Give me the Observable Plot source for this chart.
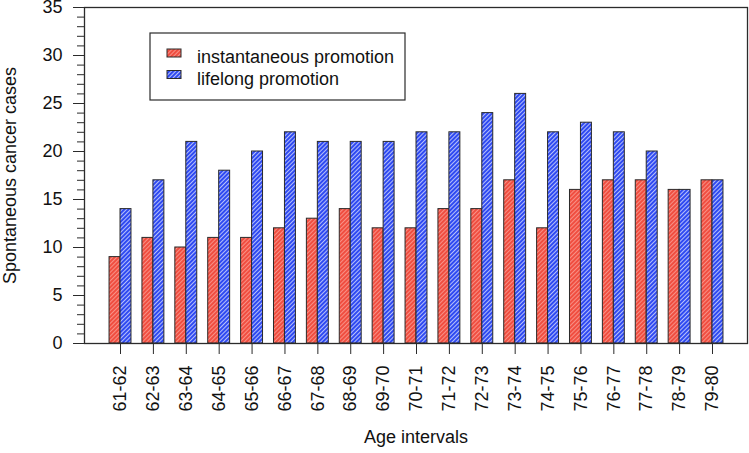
<!DOCTYPE html>
<html>
<head>
<meta charset="utf-8">
<script src="https://cdn.jsdelivr.net/npm/d3@7"></script>
<script src="https://cdn.jsdelivr.net/npm/@observablehq/plot@0.6"></script>
<style>
  html, body { margin: 0; padding: 0; background: #fff; }
  #chart svg { display: block; }
</style>
</head>
<body>
<div id="chart"></div>
<script>
const intervals = ["61-62","62-63","63-64","64-65","65-66","66-67","67-68","68-69","69-70","70-71",
                   "71-72","72-73","73-74","74-75","75-76","76-77","77-78","78-79","79-80"];
const instantaneous = [9,11,10,11,11,12,13,14,12,12,14,14,17,12,16,17,17,16,17];
const lifelong      = [14,17,21,18,20,22,21,21,21,22,22,24,26,22,23,22,20,16,17];
const seriesNames = ["instantaneous promotion", "lifelong promotion"];
const yMajorTicks = [0,5,10,15,20,25,30,35];
const yMinorTicks = d3.range(0, 36);

const rows = intervals.map((k, i) => ({i, label: k, instant: instantaneous[i], lifelong: lifelong[i]}));
const barW = 1 / 3;
const ink = "#2b2b2b";
const FS = 18;

const chart = Plot.plot({
  width: 749,
  height: 453,
  marginLeft: 84,
  marginRight: 2,
  marginTop: 7,
  marginBottom: 110,
  style: {fontFamily: "'Liberation Sans', Arial, sans-serif", fontSize: "18px", color: ink, background: "#fff"},
  x: {type: "linear", domain: [-1.095, 19.064]},
  y: {domain: [0, 35]},
  marks: [
    Plot.rect(rows, {x1: d => d.i - barW, x2: d => d.i, y1: 0, y2: "instant",
      fill: "url(#hatchRed)", stroke: ink, strokeWidth: 1}),
    Plot.rect(rows, {x1: d => d.i, x2: d => d.i + barW, y1: 0, y2: "lifelong",
      fill: "url(#hatchBlue)", stroke: ink, strokeWidth: 1}),
    Plot.frame({stroke: ink, strokeWidth: 1.3}),
    Plot.axisY({ticks: yMinorTicks, tickSize: 7, tickFormat: () => "", label: null, stroke: ink}),
    Plot.axisY({ticks: yMajorTicks, tickSize: 11, tickPadding: 11, label: null, stroke: ink, fill: "#111", fontSize: FS}),
    Plot.axisX({ticks: d3.range(intervals.length), tickFormat: i => intervals[i], tickSize: 11,
      tickPadding: 11, tickRotate: -90, label: null, stroke: ink, fill: "#111", fontSize: FS}),
    Plot.text(["Spontaneous cancer cases"], {frameAnchor: "left", text: d => d, rotate: -90, dx: -74,
      textAnchor: "middle", fill: "#111", fontSize: FS}),
    Plot.text(["Age intervals"], {frameAnchor: "bottom", text: d => d, dy: 99, fill: "#111", fontSize: FS})
  ]
});

document.getElementById("chart").appendChild(chart);

const svg = d3.select(chart);
const defs = svg.insert("defs", ":first-child");
function hatch(id, base, line, lw) {
  const p = defs.append("pattern").attr("id", id).attr("patternUnits", "userSpaceOnUse")
    .attr("width", 3).attr("height", 3).attr("patternTransform", "rotate(45)");
  p.append("rect").attr("width", 3).attr("height", 3).attr("fill", base);
  p.append("line").attr("x1", 0).attr("y1", 0).attr("x2", 0).attr("y2", 3)
    .attr("stroke", line).attr("stroke-width", lw);
}
hatch("hatchRed", "#f04e40", "#ffbdb5", 1.2);
hatch("hatchBlue", "#2f4af2", "#ffffff", 1.3);

// legend
const lg = svg.append("g").attr("font-family", "'Liberation Sans', Arial, sans-serif")
  .attr("font-size", FS).attr("text-anchor", "start");
lg.append("rect").attr("x", 150).attr("y", 33).attr("width", 255).attr("height", 67)
  .attr("fill", "#fff").attr("stroke", ink).attr("stroke-width", 1.2);
const fills = ["url(#hatchRed)", "url(#hatchBlue)"];
seriesNames.forEach((name, k) => {
  lg.append("rect").attr("x", 167).attr("y", 49 + k * 21.5).attr("width", 14).attr("height", 8)
    .attr("fill", fills[k]).attr("stroke", ink).attr("stroke-width", 1);
  lg.append("text").attr("x", 197).attr("y", 63 + k * 21.5).attr("fill", "#111")
    .attr("text-anchor", "start").text(name);
});
</script>
</body>
</html>
